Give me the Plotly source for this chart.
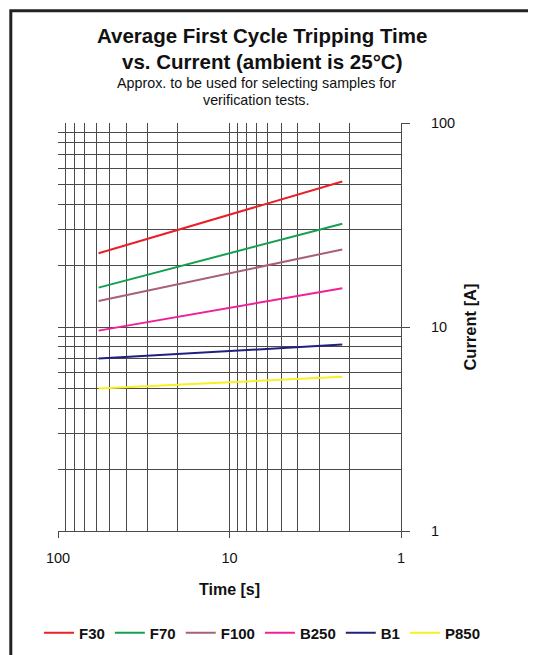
import plotly.graph_objects as go

# Data (time in s, current in A)
series_names = ["F30", "F70", "F100", "B250", "B1", "P850"]
time_s = [58, 2.2]
f30 = [23.0, 51.7]
f70 = [15.6, 32.1]
f100 = [13.4, 24.0]
b250 = [9.6, 15.5]
b1 = [7.0, 8.2]
p850 = [5.0, 5.7]
series_values = [f30, f70, f100, b250, b1, p850]
colors = ["#E8202A", "#14A050", "#A8607A", "#F0209A", "#202080", "#F8F020"]

x_tickvals = [100, 10, 1]
x_ticktext = ["100", "10", "1"]
y_tickvals = [1, 10, 100]
y_ticktext = ["1", "10", "100"]

FONT = "Liberation Sans, Arial, sans-serif"
GRID = "#4a4a4a"

fig = go.Figure()
for name, vals, c in zip(series_names, series_values, colors):
    fig.add_trace(go.Scatter(x=time_s, y=vals, name=name, mode="lines",
                             line=dict(color=c, width=2)))

# page has an 8px body margin, so work in reference pixels minus 8
OFF = 8
W, H = 536 - OFF, 655 - OFF
L, R, T, B = 58 - OFF, 135, 123 - OFF, 124
pw, ph = W - L - R, H - T - B

def px(x):
    return (x - OFF - L) / pw

def py(y):
    return (H - B - (y - OFF)) / ph

fig.update_layout(
    width=W, height=H,
    margin=dict(l=L, r=R, t=T, b=B, autoexpand=False),
    paper_bgcolor="white", plot_bgcolor="white",
    font=dict(family=FONT, color="#111", size=12),
    showlegend=True,
    legend=dict(orientation="h", x=px(486), xanchor="right", y=py(633), yanchor="middle",
                font=dict(family=FONT, size=15, color="#111", weight="bold"),
                bgcolor="rgba(0,0,0,0)", itemwidth=30, traceorder="normal"),
    xaxis=dict(type="log", range=[2, 0], tickvals=x_tickvals, ticktext=x_ticktext,
               showgrid=True, gridcolor=GRID, gridwidth=1,
               minor=dict(dtick="D1", showgrid=True, gridcolor=GRID, gridwidth=1, ticks=""),
               ticks="outside", ticklen=6, tickcolor=GRID, ticklabelstandoff=8,
               showline=True, linecolor=GRID, linewidth=1, zeroline=False,
               tickfont=dict(size=14.5, family=FONT),
               title=dict(text="<b>Time [s]</b>", font=dict(size=16, family=FONT), standoff=18)),
    yaxis=dict(type="log", range=[0, 2], side="right", tickvals=y_tickvals, ticktext=y_ticktext,
               showgrid=True, gridcolor=GRID, gridwidth=1,
               minor=dict(dtick="D1", showgrid=True, gridcolor=GRID, gridwidth=1, ticks=""),
               ticks="outside", ticklen=8, tickcolor=GRID, ticklabelstandoff=18,
               showline=True, linecolor=GRID, linewidth=1, zeroline=False,
               tickfont=dict(size=14.5, family=FONT),
               title=dict(text="<b>Current [A]</b>", font=dict(size=16.5, family=FONT), standoff=10)),
    shapes=[dict(type="rect", xref="paper", yref="paper",
                 x0=px(10.8), x1=px(529.5), y0=py(670), y1=py(10.8),
                 line=dict(color="#222", width=3), fillcolor="rgba(0,0,0,0)", layer="above")],
    annotations=[
        dict(xref="paper", yref="paper", x=px(262), y=py(35), text="<b>Average First Cycle Tripping Time</b>",
             showarrow=False, font=dict(size=20.5, family=FONT, color="#111"), xanchor="center", yanchor="middle"),
        dict(xref="paper", yref="paper", x=px(262), y=py(61), text="<b>vs. Current (ambient is 25°C)</b>",
             showarrow=False, font=dict(size=20.5, family=FONT, color="#111"), xanchor="center", yanchor="middle"),
        dict(xref="paper", yref="paper", x=px(256), y=py(83), text="Approx. to be used for selecting samples for",
             showarrow=False, font=dict(size=14.3, family=FONT, color="#111"), xanchor="center", yanchor="middle"),
        dict(xref="paper", yref="paper", x=px(256), y=py(100), text="verification tests.",
             showarrow=False, font=dict(size=14.3, family=FONT, color="#111"), xanchor="center", yanchor="middle"),
    ],
)

fig.write_html("out.html")
